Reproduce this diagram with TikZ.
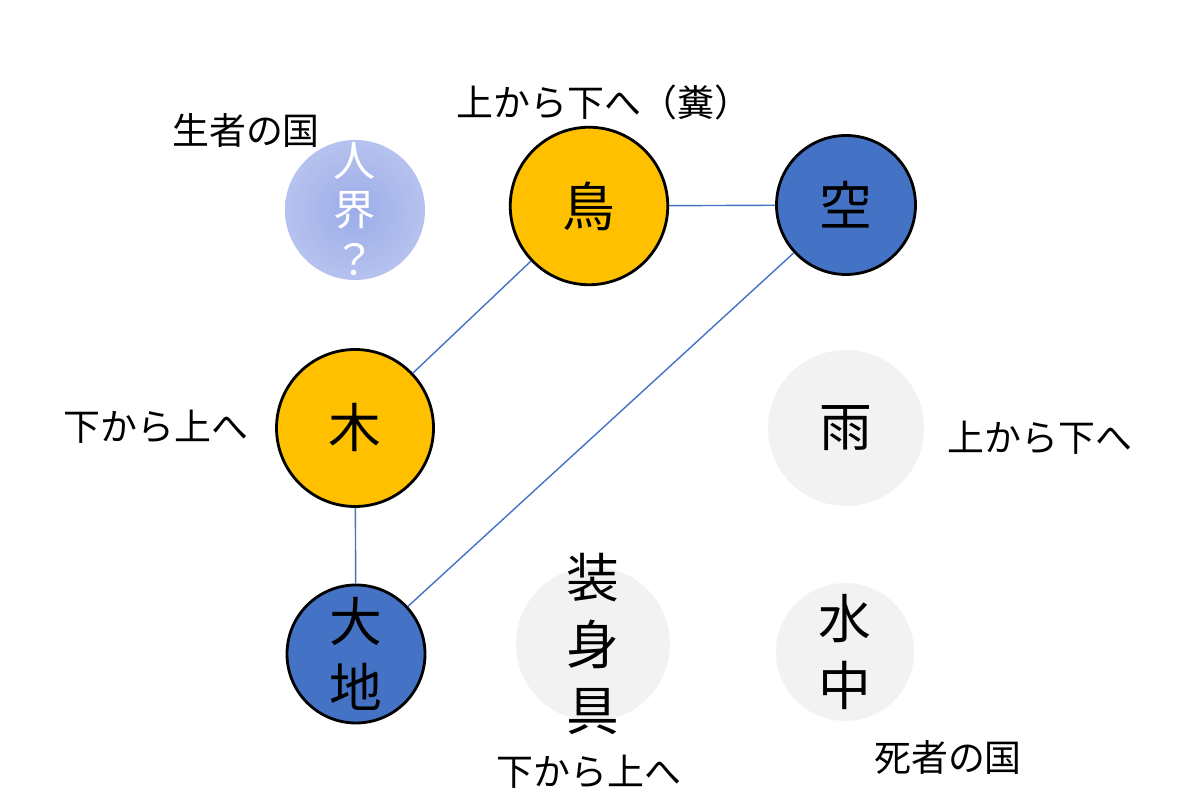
\documentclass[tikz,border=0pt]{standalone}
\usepackage{fontspec}
\setmainfont{Noto Sans CJK JP}
\usepackage{tikz}
\usetikzlibrary{positioning}
\definecolor{birdyellow}{HTML}{FFC000}
\definecolor{skyblue}{HTML}{4472C4}
\definecolor{palegray}{HTML}{F2F2F2}
\definecolor{glowin}{RGB}{155,172,232}
\definecolor{glowmid}{RGB}{182,194,238}
\definecolor{glowout}{RGB}{212,218,244}
\pgfdeclareradialshading{humanglow}{\pgfpoint{0bp}{0bp}}{color(0bp)=(glowin); color(25bp)=(glowmid); color(50bp)=(glowout); color(100bp)=(glowout)}

\begin{document}
\begin{tikzpicture}[every node/.style={font=\fontsize{21}{25}\selectfont}]
\tikzset{
  ballnode/.style={
    circle,
    inner sep=0pt,
    font=\fontsize{30}{39}\selectfont,
  },
  yellownode/.style={ballnode, draw, line width=1.6pt, fill=birdyellow},
  bluenode/.style={ballnode, draw, line width=1.6pt, fill=skyblue},
  graynode/.style={ballnode, fill=palegray},
  vtext/.style={align=center, font=\fontsize{30}{38}\selectfont},
  link/.style={draw=skyblue, line width=0.8pt}
}
\useasboundingbox (0,0) rectangle (24,16.12);
% circles
\node[ballnode, shading=humanglow, minimum size=2.8cm] (human) at (7.10,11.92) {};
\node[yellownode, minimum size=3.15cm] (bird) at (11.78,12.00) {鳥};
\node[bluenode, minimum size=2.78cm] (sky) at (16.92,12.02) {空};
\node[yellownode, minimum size=3.14cm] (tree) at (7.10,7.56) {木};
\node[graynode, minimum size=3.12cm] (rain) at (16.92,7.56) {雨};
\node[bluenode, minimum size=2.76cm] (earth) at (7.12,3.04) {};
\node[graynode, minimum size=3.08cm] (ornament) at (11.86,3.24) {};
\node[graynode, minimum size=2.76cm] (water) at (16.90,3.08) {};
% vertical texts
\node[align=center, text=white, font=\fontsize{24}{28}\selectfont] (humantext) at (7.10,11.94) {人\\界\\？};
\node[vtext] (earthtext) at (earth) {大\\地};
\node[vtext] (ornamenttext) at (ornament) {装\\身\\具};
\node[vtext] (watertext) at (water) {水\\中};
% links
\draw[link] (bird) -- (sky);
\draw[link] (bird) -- (tree);
\draw[link] (tree) -- (earth);
\draw[link] (sky) -- (earth);
% notes
\node (living) at (4.92,13.52) {生者の国};
\node (birdflow) at (12.08,14.08) {上から下へ（糞）};
\node (treeflow) at (3.12,7.58) {下から上へ};
\node (rainflow) at (20.80,7.36) {上から下へ};
\node (ornamentflow) at (11.78,0.68) {下から上へ};
\node (dead) at (18.96,0.98) {死者の国};
\end{tikzpicture}
\end{document}
